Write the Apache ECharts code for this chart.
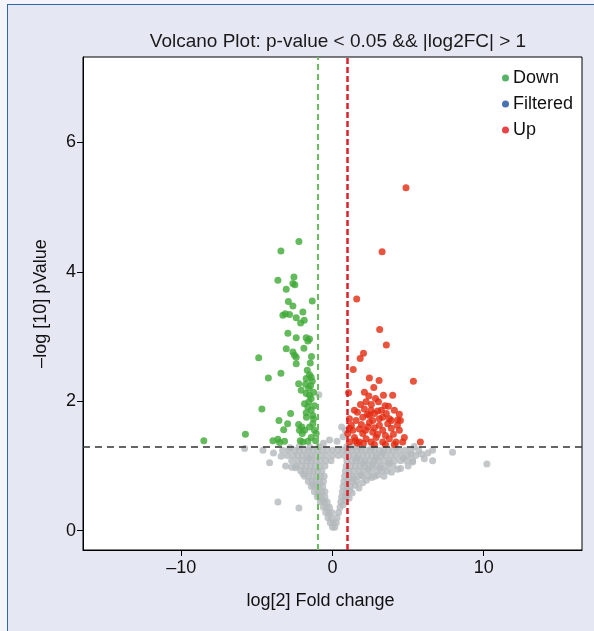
<!DOCTYPE html>
<html>
<head>
<meta charset="utf-8">
<script src="https://cdn.jsdelivr.net/npm/echarts@6/dist/echarts.min.js"></script>
<style>
  html, body { margin: 0; padding: 0; background: #f4f5fa; }
  .panel {
    position: absolute; left: 7px; top: 4px; right: 0; bottom: 0;
    background: #e5e7f3;
    border-left: 1.5px solid #2f66ad;
    border-top: 1.5px solid #2f66ad;
  }
  #chart { position: absolute; left: 0; top: 0; width: 594px; height: 631px; }
</style>
</head>
<body>
<div class="panel"></div>
<div id="chart"></div>
<script>
const FONT = '"Liberation Sans Narrow", "Liberation Sans", Arial, sans-serif'

const xTicks = [-10, 0, 10]
const yTicks = [0, 2, 4, 6]
const fcCut = [-1, 1]
const pCut = 1.301

// significant down-regulated
const downPoints = [
  [-2.22, 4.47], [-3.41, 4.32], [-3.61, 3.87], [-2.55, 3.92], [-2.62, 3.82], [-2.49, 3.80],
  [-3.06, 3.73], [-1.34, 3.55], [-2.92, 3.54], [-2.62, 3.47], [-3.28, 3.33], [-3.12, 3.35],
  [-2.84, 3.34], [-1.96, 3.38], [-2.40, 3.29], [-2.11, 3.21], [-1.87, 3.25], [-2.95, 3.05],
  [-2.40, 2.98], [-1.74, 2.98], [-1.52, 2.96], [-1.63, 2.93], [-1.89, 2.82], [-3.06, 2.81],
  [-2.62, 2.76], [-2.51, 2.71], [-2.40, 2.68], [-4.88, 2.67], [-2.40, 2.58], [-1.47, 2.59],
  [-1.67, 2.48], [-1.52, 2.41], [-1.41, 2.37], [-1.74, 2.35], [-1.34, 2.31], [-4.24, 2.36],
  [-3.41, 2.43], [-2.24, 2.27], [-1.78, 2.26], [-1.45, 2.24], [-2.07, 2.17], [-1.74, 2.12],
  [-1.52, 2.09], [-1.41, 2.04], [-1.56, 1.99], [-4.67, 1.88], [-1.85, 1.96], [-1.63, 1.91],
  [-1.41, 1.86], [-1.74, 1.82], [-1.30, 1.78], [-2.77, 1.81], [-3.54, 1.70], [-2.97, 1.65],
  [-3.23, 1.56], [-3.61, 1.41], [-3.94, 1.39], [-2.24, 1.64], [-2.03, 1.60], [-1.85, 1.55],
  [-2.00, 1.50], [-2.13, 1.39], [-1.52, 1.60], [-1.30, 1.65], [-1.19, 1.55], [-1.08, 1.50],
  [-1.41, 1.44], [-1.63, 1.38], [-1.96, 1.37], [-5.76, 1.49], [-3.17, 1.38], [-3.50, 1.36],
  [-8.51, 1.39], [-1.25, 2.14], [-1.19, 1.93], [-1.25, 1.73], [-1.12, 1.39], [-1.39, 2.69],
  [-2.18, 1.55], [-1.72, 1.75], [-1.58, 2.20]
]

// significant up-regulated
const upPoints = [
  [4.86, 5.30], [3.28, 4.31], [1.60, 3.58], [3.12, 3.11], [3.56, 2.87], [2.05, 2.74],
  [1.83, 2.66], [1.37, 2.49], [2.44, 2.36], [3.08, 2.32], [5.35, 2.31], [2.73, 2.21],
  [1.06, 2.13], [2.40, 2.08], [3.37, 2.09], [3.98, 2.09], [2.22, 1.99], [3.04, 1.99],
  [3.48, 1.93], [2.11, 1.88], [2.55, 1.86], [2.99, 1.85], [4.42, 1.80], [4.31, 1.71],
  [1.12, 1.73], [1.56, 1.70], [2.00, 1.75], [2.44, 1.78], [2.66, 1.70], [3.32, 1.75],
  [3.76, 1.73], [3.65, 1.65], [3.10, 1.63], [2.33, 1.60], [1.78, 1.57], [1.34, 1.55],
  [1.01, 1.50], [2.00, 1.50], [2.66, 1.52], [3.32, 1.55], [4.42, 1.55], [4.75, 1.44],
  [5.81, 1.37], [1.45, 1.44], [2.22, 1.42], [2.88, 1.44], [3.76, 1.42], [4.20, 1.37],
  [1.12, 1.37], [1.78, 1.37], [2.55, 1.37], [3.32, 1.37], [4.49, 1.70], [4.64, 1.37],
  [1.65, 1.83], [1.91, 1.64], [2.18, 1.55], [2.44, 1.67], [2.77, 1.59], [2.97, 1.49],
  [3.50, 1.47], [3.89, 1.58], [4.03, 1.49], [1.25, 1.63], [1.52, 1.39], [2.05, 1.35],
  [2.31, 1.80], [2.77, 1.81], [3.23, 1.86], [3.56, 1.81], [3.70, 1.92], [4.09, 1.86],
  [4.29, 1.63], [2.57, 1.95], [1.85, 1.95], [1.45, 1.86], [1.12, 1.58], [2.84, 2.04],
  [2.11, 2.14], [1.65, 1.35], [3.50, 1.33], [2.77, 1.33], [4.09, 1.33], [3.10, 1.73],
  [3.89, 1.70]
]

// not significant
const filteredPoints = [
  [0.00, 0.05], [0.15, 0.05], [-0.15, 0.12], [0.05, 0.12], [0.25, 0.12],
  [-0.30, 0.20], [-0.10, 0.20], [0.30, 0.20],
  [-0.45, 0.28], [-0.25, 0.28], [-0.05, 0.28], [0.40, 0.28],
  [-0.60, 0.36], [-0.40, 0.36], [-0.20, 0.36], [0.50, 0.36],
  [-0.80, 0.44], [-0.55, 0.44], [-0.35, 0.44], [0.55, 0.44],
  [-1.00, 0.52], [-0.75, 0.52], [-0.50, 0.52], [0.60, 0.52], [0.85, 0.52],
  [-1.20, 0.60], [-0.95, 0.60], [-0.70, 0.60], [-0.50, 0.60], [0.65, 0.60], [0.90, 0.60],
  [-1.40, 0.68], [-1.15, 0.68], [-0.90, 0.68], [-0.65, 0.68], [0.70, 0.68], [0.95, 0.68], [1.20, 0.68],
  [-1.60, 0.76], [-1.35, 0.76], [-1.10, 0.76], [-0.85, 0.76], [-0.60, 0.76], [0.75, 0.76], [1.00, 0.76],
  [1.30, 0.76], [1.60, 0.76],
  [-1.85, 0.84], [-1.60, 0.84], [-1.30, 0.84], [-1.05, 0.84], [-0.80, 0.84], [-0.55, 0.84], [0.80, 0.84],
  [1.05, 0.84], [1.35, 0.84], [1.70, 0.84], [2.00, 0.84], [2.40, 0.84], [2.80, 0.84],
  [-2.10, 0.92], [-1.80, 0.92], [-1.50, 0.92], [-1.25, 0.92], [-1.00, 0.92], [-0.70, 0.92], [0.85, 0.92],
  [1.10, 0.92], [1.40, 0.92], [1.75, 0.92], [2.10, 0.92], [2.50, 0.92], [2.90, 0.92], [3.30, 0.92],
  [3.60, 0.92],
  [-2.40, 1.00], [-2.05, 1.00], [-1.75, 1.00], [-1.45, 1.00], [-1.15, 1.00], [-0.85, 1.00], [-0.50, 1.00],
  [0.90, 1.00], [1.20, 1.00], [1.50, 1.00], [1.80, 1.00], [2.10, 1.00], [2.45, 1.00], [2.80, 1.00],
  [3.20, 1.00], [3.60, 1.00], [4.00, 1.00],
  [-2.70, 1.08], [-2.30, 1.08], [-2.00, 1.08], [-1.70, 1.08], [-1.40, 1.08], [-1.10, 1.08], [-0.80, 1.08],
  [-0.45, 1.08], [-0.10, 1.08], [0.95, 1.08], [1.25, 1.08], [1.55, 1.08], [1.85, 1.08], [2.15, 1.08],
  [2.45, 1.08], [2.75, 1.08], [3.05, 1.08], [3.40, 1.08], [3.75, 1.08], [4.10, 1.08], [4.50, 1.08],
  [4.90, 1.08], [5.30, 1.08],
  [-3.00, 1.16], [-2.60, 1.16], [-2.30, 1.16], [-2.00, 1.16], [-1.70, 1.16], [-1.40, 1.16], [-1.10, 1.16],
  [-0.75, 1.16], [-0.40, 1.16], [0.00, 1.16], [0.40, 1.16], [0.80, 1.16], [1.10, 1.16], [1.40, 1.16],
  [1.70, 1.16], [2.00, 1.16], [2.30, 1.16], [2.60, 1.16], [2.90, 1.16], [3.20, 1.16], [3.50, 1.16],
  [3.85, 1.16], [4.20, 1.16], [4.60, 1.16], [5.00, 1.16], [5.50, 1.16],
  [-3.30, 1.24], [-2.90, 1.24], [-2.50, 1.24], [-2.20, 1.24], [-1.90, 1.24], [-1.60, 1.24], [-1.30, 1.24],
  [-1.00, 1.24], [-0.70, 1.24], [-0.35, 1.24], [0.00, 1.24], [0.35, 1.24], [0.70, 1.24], [1.00, 1.24],
  [1.30, 1.24], [1.60, 1.24], [1.90, 1.24], [2.20, 1.24], [2.50, 1.24], [2.80, 1.24], [3.10, 1.24],
  [3.40, 1.24], [3.70, 1.24], [4.00, 1.24], [4.40, 1.24], [4.80, 1.24], [5.20, 1.24], [5.70, 1.24],
  [-0.60, 1.35], [-0.20, 1.40], [0.30, 1.38], [0.70, 1.45], [0.85, 1.55], [0.60, 1.60], [-0.90, 2.10],
  [-3.61, 0.44], [-2.22, 0.35], [-4.16, 1.05], [-4.60, 1.24], [-5.81, 1.27], [-3.90, 1.20],
  [7.94, 1.21], [6.62, 1.24], [10.21, 1.03], [6.62, 1.08], [6.07, 1.11], [5.30, 1.06], [5.90, 1.18],
  [6.30, 1.20], [4.50, 0.96], [5.00, 1.00],
  [0.95, 0.55], [1.15, 0.62], [1.30, 0.58], [1.50, 0.70], [1.75, 0.66], [2.00, 0.74], [2.25, 0.78],
  [1.40, 0.80], [1.90, 0.86], [2.60, 0.82], [3.00, 0.86], [3.40, 0.84], [3.90, 0.90], [4.30, 0.95],
  [0.70, 0.40], [0.85, 0.46], [1.10, 0.50], [2.35, 0.95], [2.65, 1.02], [3.15, 0.97], [3.75, 1.04],
  [4.70, 1.12], [5.20, 1.18], [1.60, 1.12], [2.05, 1.04], [2.90, 1.12], [3.30, 1.20], [1.30, 1.30],
  [0.95, 1.30], [1.80, 1.28], [2.60, 1.28], [4.20, 1.28], [5.40, 1.30],
  [-2.80, 1.28], [-2.20, 1.30], [-1.50, 1.29], [-0.90, 1.30], [-3.40, 1.15], [-2.45, 0.97],
  [-1.95, 0.88], [-1.25, 0.70], [-0.95, 0.56], [-0.65, 0.47], [-3.10, 1.00], [-2.70, 0.98],
  [-1.55, 1.12]
]

const chart = echarts.init(document.getElementById('chart'), null, { renderer: 'canvas' })

const dash = (s) => String(s).replace('-', '–')

const option = {
  animation: false,
  textStyle: { fontFamily: FONT },
  title: {
    text: 'Volcano Plot: p-value < 0.05 && |log2FC| > 1',
    left: 333,
    top: 27,
    textAlign: 'center',
    textStyle: { fontFamily: FONT, fontSize: 19, fontWeight: 'normal', color: '#1a1a1a' }
  },
  legend: {
    orient: 'vertical',
    left: 497,
    top: 64,
    itemWidth: 7,
    itemHeight: 7,
    itemGap: 8,
    icon: 'circle',
    textStyle: { fontFamily: FONT, fontSize: 18, color: '#111', lineHeight: 18, padding: [0, 0, 0, -1] },
    data: [
      { name: 'Down', itemStyle: { color: '#2aa043' } },
      { name: 'Filtered', itemStyle: { color: '#1d4f9c' } },
      { name: 'Up', itemStyle: { color: '#e3141b' } }
    ]
  },
  grid: {
    left: 83, right: 12, top: 57, bottom: 81,
    show: true, backgroundColor: '#ffffff', borderColor: '#000', borderWidth: 1
  },
  xAxis: {
    type: 'value',
    min: -16.5,
    max: 16.5,
    splitLine: { show: false },
    axisLine: { show: true, onZero: false, lineStyle: { color: '#000', width: 1 } },
    axisTick: { show: true, customValues: xTicks, length: 6, lineStyle: { color: '#000' } },
    axisLabel: { customValues: xTicks, formatter: dash, fontSize: 18, color: '#111', margin: 9, fontFamily: FONT },
    name: 'log[2] Fold change',
    nameLocation: 'middle',
    nameGap: 42,
    nameTextStyle: { fontSize: 18, color: '#111', fontFamily: FONT, padding: [0, 24, 0, 0] }
  },
  yAxis: {
    type: 'value',
    min: -0.3,
    max: 7.32,
    splitLine: { show: false },
    axisLine: { show: true, onZero: false, lineStyle: { color: '#000', width: 1 } },
    axisTick: { show: true, customValues: yTicks, length: 6, lineStyle: { color: '#000' } },
    axisLabel: { customValues: yTicks, fontSize: 18, color: '#111', margin: 7, fontFamily: FONT },
    name: '–log [10] pValue',
    nameLocation: 'middle',
    nameGap: 33,
    nameTextStyle: { fontSize: 18, color: '#111', fontFamily: FONT }
  },
  series: [
    {
      name: 'Filtered',
      type: 'scatter',
      symbolSize: 7,
      itemStyle: { color: '#b4b9bd' },
      data: filteredPoints,
      z: 2
    },
    {
      name: 'Down',
      type: 'scatter',
      symbolSize: 7,
      itemStyle: { color: '#3fa936' },
      data: downPoints,
      z: 3
    },
    {
      name: 'Up',
      type: 'scatter',
      symbolSize: 7,
      itemStyle: { color: '#e4290f' },
      data: upPoints,
      z: 3
    },
    {
      name: 'cutoffs',
      type: 'scatter',
      data: [],
      z: 5,
      markLine: {
        silent: true,
        symbol: 'none',
        label: { show: false },
        data: [
          { xAxis: fcCut[0], lineStyle: { color: '#6cbd5f', type: [6, 4], width: 2 } },
          { xAxis: fcCut[1], lineStyle: { color: '#d9232b', type: [6, 3], width: 2.5 } },
          { yAxis: pCut, lineStyle: { color: '#333', type: [7, 5], width: 1.5 } }
        ]
      }
    }
  ]
}

chart.setOption(option)
</script>
</body>
</html>
